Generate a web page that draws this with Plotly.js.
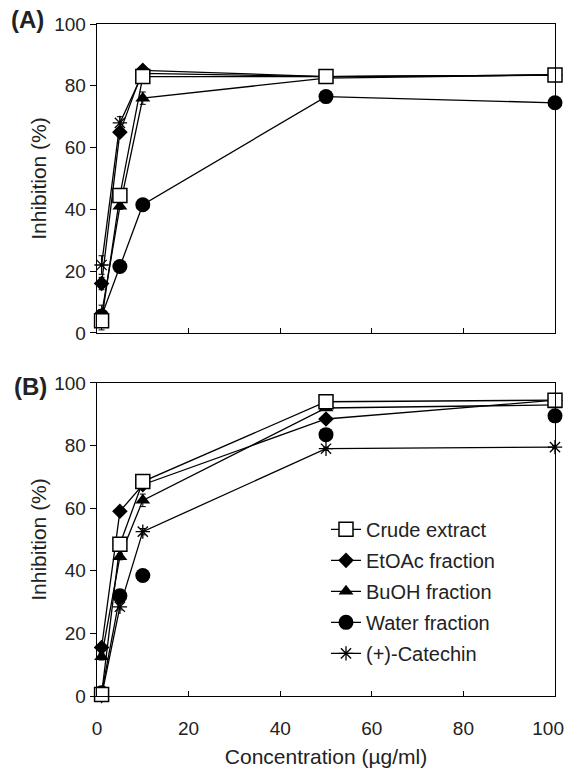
<!DOCTYPE html>
<html>
<head>
<meta charset="utf-8">
<script src="https://cdn.plot.ly/plotly-3.0.1.min.js"></script>
<style>html,body{margin:0;padding:0;background:#fff;}#chart{width:566px;height:768px;}</style>
</head>
<body>
<div id="chart"></div>
<script>
// Concentrations (µg/ml)
const conc = [1, 5, 10, 50, 100];
const seriesNames = ["Crude extract", "EtOAc fraction", "BuOH fraction", "Water fraction", "(+)-Catechin"];

// Panel (A) inhibition (%)
const crudeA    = [4, 44.5, 83, 83, 83.5];
const etoacA    = [16, 65, 85, 83, 83.5];
const buohA     = [6, 41, 76, 82.5, 83.5];
const waterA    = [5.5, 21.5, 41.5, 76.5, 74.5];
const catechinA = [22, 68, 84, 83, 83.5];
const errA = {
  crude:    [3, 2, 1, 0.5, 0.5],
  etoac:    [2, 1, 1, 0.5, 0.5],
  buoh:     [3, 1, 2, 0.5, 0.5],
  water:    [1, 1, 1, 1, 1],
  catechin: [3, 2, 1, 0.5, 0.5]
};

// Panel (B) inhibition (%)
const crudeB    = [0.5, 48.5, 68.5, 94, 94.5];
const etoacB    = [15.5, 59, 67.5, 88.5, 94.5];
const buohB     = [12.5, 44.5, 62.5, 92, 93];
const waterB    = [1, 32, 38.5, 83.5, 89.5];
const catechinB = [0, 28.5, 52.5, 79, 79.5];
const errB = {
  crude:    [1, 1, 1, 0.5, 0.5],
  etoac:    [1, 1, 1, 0.5, 0.5],
  buoh:     [1, 1, 2, 0.5, 0.5],
  water:    [1, 1, 1, 1, 1],
  catechin: [1, 1, 1, 0.5, 0.5]
};

const xTicks = [0, 20, 40, 60, 80, 100];
const xTickText = ["0", "20", "40", "60", "80", "100"];
const yTicks = [0, 20, 40, 60, 80, 100];

const FONT = "Liberation Sans, Arial, sans-serif";
const markers = {
  crude:    {symbol: "square", size: 14, color: "#fff", line: {color: "#000", width: 1.5}},
  etoac:    {symbol: "diamond", size: 12, color: "#000", line: {color: "#000", width: 0}},
  buoh:     {symbol: "triangle-up", size: 13, color: "#000", line: {color: "#000", width: 0}},
  water:    {symbol: "circle", size: 15, color: "#000", line: {color: "#000", width: 0}},
  catechin: {symbol: "asterisk-open", size: 12, color: "#000", line: {color: "#000", width: 1.3}}
};
const ranks = {crude: 1, etoac: 2, buoh: 3, water: 4, catechin: 5};
const labels = {crude: seriesNames[0], etoac: seriesNames[1], buoh: seriesNames[2], water: seriesNames[3], catechin: seriesNames[4]};

function mk(key, yv, err, xa, ya, showLeg, mode) {
  return {
    x: conc, y: yv, type: "scatter", mode: mode || "lines+markers",
    name: labels[key], legendgroup: key, legendrank: ranks[key],
    showlegend: showLeg, xaxis: xa, yaxis: ya, cliponaxis: false,
    line: {color: "#000", width: 1.3},
    marker: markers[key],
    error_y: {type: "data", array: err, visible: true, color: "#000", thickness: 1, width: 3}
  };
}

const drawOrder = ["water", "catechin", "buoh", "etoac", "crude"];
const dataA = {crude: crudeA, etoac: etoacA, buoh: buohA, water: waterA, catechin: catechinA};
const dataB = {crude: crudeB, etoac: etoacB, buoh: buohB, water: waterB, catechin: catechinB};

const traces = [];
drawOrder.forEach(k => traces.push(mk(k, dataA[k], errA[k], "x2", "y2", true)));
drawOrder.forEach(k => {
  if (k === "water") {
    // water fraction in (B): only the first segment is joined by a line
    traces.push({
      x: conc.slice(0, 2), y: waterB.slice(0, 2), type: "scatter", mode: "lines",
      showlegend: false, legendgroup: "water", xaxis: "x", yaxis: "y",
      line: {color: "#000", width: 1.3}, hoverinfo: "skip"
    });
    traces.push(mk(k, dataB[k], errB[k], "x", "y", false, "markers"));
  } else {
    traces.push(mk(k, dataB[k], errB[k], "x", "y", false));
  }
});
// empty trace that only registers the label axis
traces.push({x: [], y: [], type: "scatter", mode: "markers", xaxis: "x3", yaxis: "y", showlegend: false, hoverinfo: "skip"});

// label positions: the last label is nudged inward so it stays inside the page, as in the original
const xLabelPos = xTicks.map((v, i) => i === xTicks.length - 1 ? v - 1.5 : v);

const axisCommon = {
  range: [0, 100], showline: true, linecolor: "#000", linewidth: 1.3, mirror: true,
  showgrid: false, zeroline: false, tickcolor: "#000", tickwidth: 1,
  tickfont: {family: FONT, size: 19, color: "#222"}
};

const layout = {
  width: 566, height: 768,
  paper_bgcolor: "#fff", plot_bgcolor: "#fff",
  margin: {l: 97, r: 11, t: 24, b: 72},
  showlegend: true,
  font: {family: FONT, color: "#222"},
  xaxis: Object.assign({}, axisCommon, {
    anchor: "y", tickvals: xTicks, ticks: "inside", ticklen: 5, showticklabels: false
  }),
  xaxis3: {
    range: [0, 100], overlaying: "x", anchor: "y", side: "bottom",
    showline: false, showgrid: false, zeroline: false, ticks: "",
    tickvals: xLabelPos, ticktext: xTickText,
    tickfont: {family: FONT, size: 19, color: "#222"},
    ticklabelstandoff: 19, ticklabeloverflow: "allow",
    title: {text: "Concentration (\u00b5g/ml)", font: {family: FONT, size: 21, color: "#222"}, standoff: 11}
  },
  xaxis2: Object.assign({}, axisCommon, {
    anchor: "y2", tickvals: xTicks, ticks: "inside", ticklen: 5, showticklabels: false
  }),
  yaxis: Object.assign({}, axisCommon, {
    domain: [0, 0.4658], anchor: "x", tickvals: yTicks, ticks: "outside", ticklen: 6,
    title: {text: "Inhibition (%)", font: {family: FONT, size: 21, color: "#222"}, standoff: 1}
  }),
  yaxis2: Object.assign({}, axisCommon, {
    domain: [0.5402, 1], anchor: "x2", tickvals: yTicks, ticks: "outside", ticklen: 6,
    title: {text: "Inhibition (%)", font: {family: FONT, size: 21, color: "#222"}, standoff: 1}
  }),
  legend: {
    x: 0.50, y: 0.277, xanchor: "left", yanchor: "top",
    bgcolor: "rgba(0,0,0,0)", borderwidth: 0,
    font: {family: FONT, size: 20, color: "#222"},
    traceorder: "grouped", tracegroupgap: 2
  },
  annotations: [
    {text: "<b>(A)</b>", xref: "paper", yref: "paper", x: -0.151, y: 1.006, xanchor: "center", yanchor: "middle",
     showarrow: false, font: {family: FONT, size: 24, color: "#222"}},
    {text: "<b>(B)</b>", xref: "paper", yref: "paper", x: -0.146, y: 0.461, xanchor: "center", yanchor: "middle",
     showarrow: false, font: {family: FONT, size: 24, color: "#222"}}
  ]
};

Plotly.newPlot("chart", traces, layout, {displayModeBar: false, staticPlot: true});
</script>
</body>
</html>
